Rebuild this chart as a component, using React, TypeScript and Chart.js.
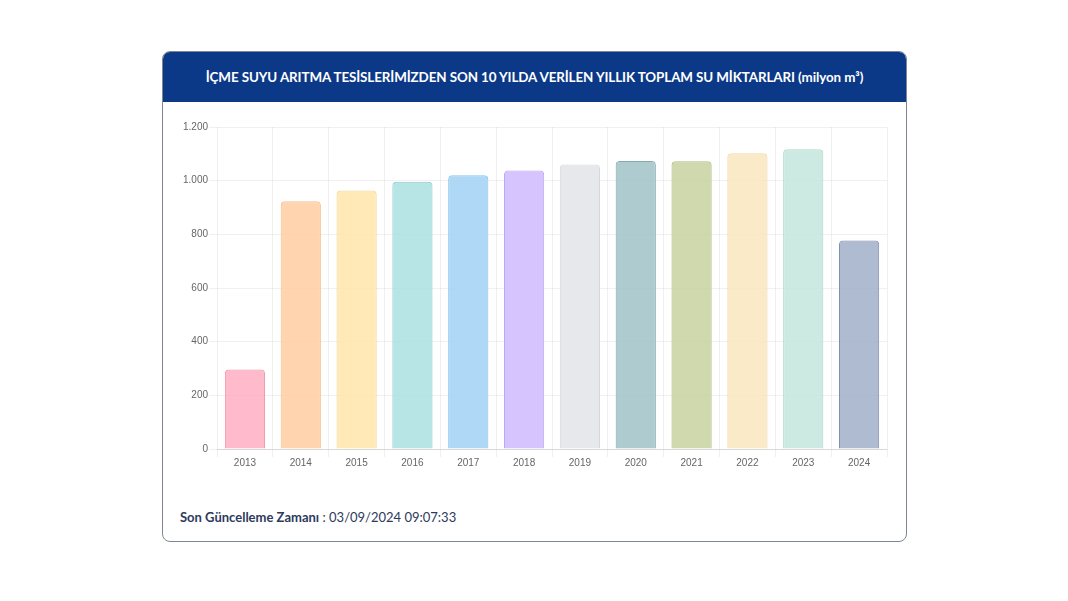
import React, { useEffect, useRef } from "react";
import { Chart, registerables } from "chart.js";

Chart.register(...registerables);

const years = ["2013", "2014", "2015", "2016", "2017", "2018", "2019", "2020", "2021", "2022", "2023", "2024"];
const waterAmounts = [296, 923, 963, 996, 1020, 1038, 1060, 1073, 1072, 1102, 1117, 777];
const barColors = [
  "rgba(255,170,190,0.8)",
  "rgba(255,205,160,0.85)",
  "rgba(255,230,170,0.85)",
  "rgba(170,225,225,0.85)",
  "rgba(165,212,245,0.9)",
  "rgba(210,190,255,0.9)",
  "rgba(228,230,233,0.9)",
  "rgba(160,195,200,0.85)",
  "rgba(200,210,160,0.85)",
  "rgba(250,230,190,0.85)",
  "rgba(195,230,220,0.85)",
  "rgba(160,175,200,0.85)",
];
const borderColors = [
  "rgba(240,150,170,1)",
  "rgba(240,190,140,1)",
  "rgba(240,215,150,1)",
  "rgba(140,205,205,1)",
  "rgba(140,195,235,1)",
  "rgba(190,165,245,1)",
  "rgba(215,217,220,1)",
  "rgba(130,170,175,1)",
  "rgba(175,185,130,1)",
  "rgba(240,215,170,1)",
  "rgba(175,215,200,1)",
  "rgba(130,145,175,1)",
];
const yTicks = [0, 200, 400, 600, 800, 1000, 1200];
const title = "İÇME SUYU ARITMA TESİSLERİMİZDEN SON 10 YILDA VERİLEN YILLIK TOPLAM SU MİKTARLARI (milyon m³)";

export default function App() {
  const ref = useRef<HTMLCanvasElement | null>(null);
  useEffect(() => {
    if (!ref.current) return;
    const chart = new Chart(ref.current, {
      type: "bar",
      data: {
        labels: years,
        datasets: [
          {
            data: waterAmounts,
            backgroundColor: barColors,
            borderColor: borderColors,
            borderWidth: 1,
            borderRadius: 4,
            categoryPercentage: 0.8,
            barPercentage: 0.9,
          },
        ],
      },
      options: {
        animation: false,
        responsive: false,
        maintainAspectRatio: false,
        layout: { padding: { left: 0, right: 25, top: 11, bottom: 0 } },
        plugins: { legend: { display: false }, tooltip: { enabled: false } },
        scales: {
          x: {
            grid: { color: "rgba(0,0,0,0.06)", offset: true },
            ticks: { color: "#666", font: { family: "Liberation Sans", size: 10 }, padding: 0 },
          },
          y: {
            min: 0,
            max: 1200,
            afterBuildTicks: (axis: any) => {
              axis.ticks = yTicks.map((v) => ({ value: v }));
            },
            grid: { color: "rgba(0,0,0,0.06)" },
            border: { display: false },
            ticks: {
              color: "#666",
              font: { family: "Liberation Sans", size: 10 },
              padding: 1,
              callback: (v: any) => Number(v).toLocaleString("de-DE"),
            },
          },
        },
      },
    });
    return () => chart.destroy();
  }, []);

  return (
    <div
      style={{
        position: "absolute",
        left: 162,
        top: 51,
        width: 745,
        height: 491,
        border: "1px solid #7f8794",
        borderRadius: 8,
        overflow: "hidden",
        background: "#fff",
        boxSizing: "border-box",
      }}
    >
      <div
        style={{
          height: 50,
          background: "#0c3987",
          color: "#fff",
          display: "flex",
          alignItems: "center",
          justifyContent: "center",
          fontFamily: "Lato, 'Noto Sans', sans-serif",
          fontWeight: 700,
          fontSize: 13.4,
          letterSpacing: -0.1,
        }}
      >
        {title}
      </div>
      <canvas ref={ref} width={730} height={353} style={{ position: "absolute", left: 19, top: 64, width: 730, height: 353 }} />
      <div
        style={{
          position: "absolute",
          left: 17,
          top: 457,
          fontFamily: "Lato, 'Noto Sans', sans-serif",
          fontSize: 13,
          color: "#2c3a5c",
        }}
      >
        <span style={{ fontWeight: 700 }}>Son Güncelleme Zamanı</span>
        <span> : 03/09/2024 09:07:33</span>
      </div>
    </div>
  );
}
